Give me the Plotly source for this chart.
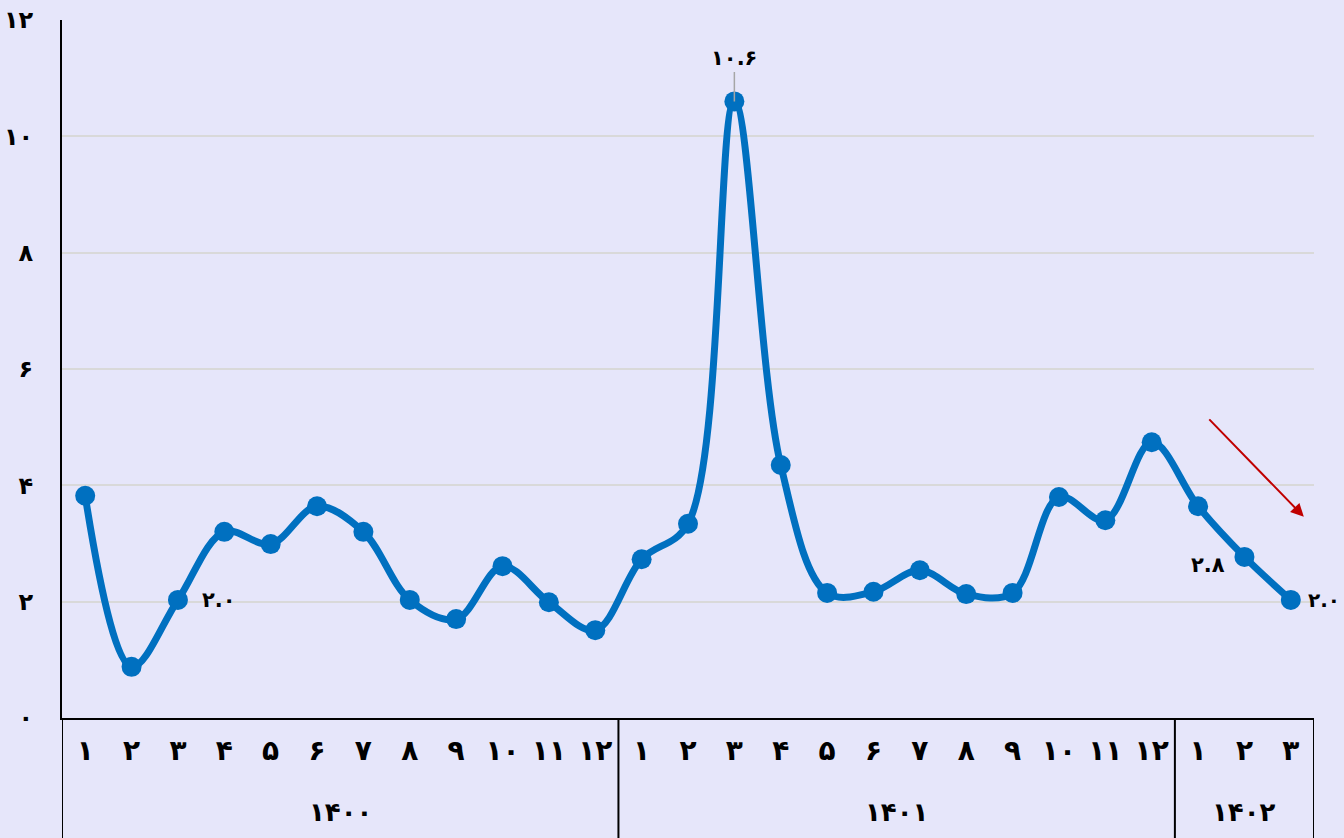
import plotly.graph_objects as go

# ---- data ----
years = ["1400"] * 12 + ["1401"] * 12 + ["1402"] * 3
months = list(range(1, 13)) + list(range(1, 13)) + [1, 2, 3]
values = [3.82, 0.88, 2.03, 3.20, 2.99, 3.64, 3.20, 2.03, 1.70, 2.61, 1.99, 1.51,
          2.73, 3.34, 10.6, 4.35, 2.15, 2.17, 2.54, 2.13, 2.15, 3.80, 3.40, 4.74,
          3.64, 2.77, 2.03]
year_groups = ["1400", "1401", "1402"]
y_ticks = [0, 2, 4, 6, 8, 10, 12]
labelled_points = [2, 14, 25, 26]

FA = str.maketrans("0123456789", "۰۱۲۳۴۵۶۷۸۹")
def fa(s):
    return str(s).translate(FA)

FONT = "DejaVu Sans"
BG = "#E6E6FA"
BLUE = "#0070C0"

x_idx = list(range(len(values)))

fig = go.Figure()
fig.add_trace(go.Scatter(
    x=x_idx, y=values, mode="lines+markers",
    line=dict(color=BLUE, width=7, shape="spline", smoothing=1),
    marker=dict(color=BLUE, size=20),
    showlegend=False, hoverinfo="skip",
))

# data labels
label_style = {
    2: dict(xshift=22, yshift=0, xanchor="left", showarrow=False, size=21),
    14: dict(showarrow=True, ax=0, ay=-43, arrowhead=0, arrowwidth=1.5,
             arrowcolor="#A6A6A6", standoff=0, size=21),
    25: dict(xshift=-36, yshift=-8, showarrow=False, size=21),
    26: dict(xshift=15, yshift=0, xanchor="left", showarrow=False, size=20),
}
for i in labelled_points:
    st = dict(label_style[i])
    fsize = st.pop("size")
    fig.add_annotation(x=x_idx[i], y=values[i], text=fa(f"{values[i]:.1f}"),
                       font=dict(family=FONT, size=fsize, color="black", weight="bold"),
                       **st)

# year group labels and dividers
bounds = [-0.5]
for g in year_groups:
    bounds.append(bounds[-1] + years.count(g))
for k, g in enumerate(year_groups):
    fig.add_annotation(x=(bounds[k] + bounds[k + 1]) / 2, y=0, xref="x", yref="paper",
                       yshift=-94, yanchor="middle", text=fa(g), showarrow=False,
                       font=dict(family=FONT, size=26, color="black", weight="bold"))
for b in bounds:
    fig.add_shape(type="line", xref="x", yref="paper", x0=b, x1=b, y0=0, y1=-0.25,
                  line=dict(color="black", width=2))

# trend arrow
fig.add_annotation(x=26.28, y=3.46, ax=24.21, ay=5.16, xref="x", yref="y",
                   axref="x", ayref="y", text="", showarrow=True,
                   arrowhead=2, arrowsize=1.3, arrowwidth=2, arrowcolor="#C00000")

fig.update_layout(
    width=1344, height=838,
    margin=dict(l=62, r=30, t=20, b=120, autoexpand=False),
    paper_bgcolor=BG, plot_bgcolor=BG,
    font=dict(family=FONT, color="black"),
    xaxis=dict(range=[-0.5, len(values) - 0.5], tickmode="array", tickvals=x_idx,
               ticktext=[fa(m) for m in months], showgrid=False, zeroline=False,
               showline=True, linecolor="black", linewidth=2, automargin=False,
               ticks="outside", ticklen=6, tickcolor="rgba(0,0,0,0)",
               tickfont=dict(family=FONT, size=28, color="black", weight="bold")),
    yaxis=dict(range=[0, 12], tickmode="array", tickvals=y_ticks,
               ticktext=[fa(t) for t in y_ticks], showgrid=True, gridcolor="#D9D9D9",
               gridwidth=1.5, zeroline=False, showline=True, linecolor="black",
               linewidth=2, ticks="outside", ticklen=22, tickcolor="rgba(0,0,0,0)",
               automargin=False,
               tickfont=dict(family=FONT, size=24, color="black", weight="bold")),
)

fig.write_html("out.html", config={"displayModeBar": False}, post_script=(
    "document.body.style.margin='0px';"
    "document.body.style.background='" + BG + "';"
))
